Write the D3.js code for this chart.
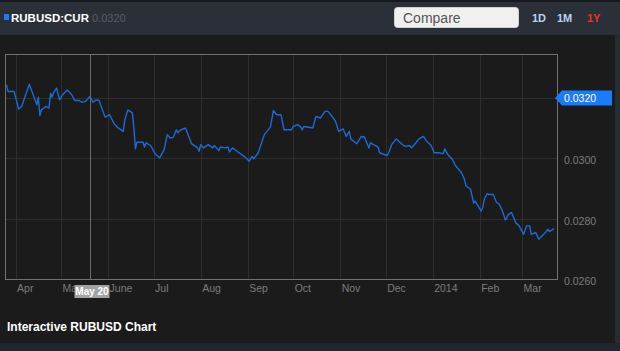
<!DOCTYPE html>
<html>
<head>
<meta charset="utf-8">
<script src="https://cdn.jsdelivr.net/npm/d3@7"></script>
<style>
  html, body { margin: 0; padding: 0; background: #1b1b1b; }
  svg { display: block; font-family: "Liberation Sans", Arial, sans-serif; }
</style>
</head>
<body>
<div id="chart"></div>
<script>
// RUBUSD daily close, Mar 2013 - Mar 2014
const dates = [
  "2013-03-26","2013-03-27","2013-03-31","2013-04-03","2013-04-05","2013-04-10","2013-04-13","2013-04-15",
  "2013-04-16","2013-04-17","2013-04-18","2013-04-21","2013-04-23","2013-04-24","2013-04-25","2013-04-26",
  "2013-04-28","2013-04-30","2013-05-02","2013-05-05","2013-05-08","2013-05-10","2013-05-13","2013-05-15",
  "2013-05-17","2013-05-20","2013-05-22","2013-05-24","2013-05-26","2013-05-27","2013-05-30","2013-06-02",
  "2013-06-05","2013-06-07","2013-06-11","2013-06-12","2013-06-14","2013-06-17","2013-06-18","2013-06-19",
  "2013-06-20","2013-06-24","2013-06-25","2013-06-26","2013-06-29","2013-07-02","2013-07-05","2013-07-08",
  "2013-07-10","2013-07-12","2013-07-14","2013-07-16","2013-07-17","2013-07-19","2013-07-22","2013-07-26",
  "2013-07-30","2013-07-31","2013-08-01","2013-08-03","2013-08-06","2013-08-09","2013-08-10","2013-08-13",
  "2013-08-14","2013-08-17","2013-08-19","2013-08-20","2013-08-22","2013-08-25","2013-08-31","2013-09-02",
  "2013-09-04","2013-09-05","2013-09-08","2013-09-12","2013-09-16","2013-09-18","2013-09-20","2013-09-23",
  "2013-09-25","2013-09-30","2013-10-01","2013-10-04","2013-10-06","2013-10-07","2013-10-08","2013-10-14",
  "2013-10-16","2013-10-19","2013-10-22","2013-10-24","2013-10-27","2013-10-29","2013-10-31","2013-11-03",
  "2013-11-05","2013-11-07","2013-11-08","2013-11-12","2013-11-15","2013-11-17","2013-11-20","2013-11-21",
  "2013-11-26","2013-11-27","2013-12-02","2013-12-03","2013-12-05","2013-12-08","2013-12-12","2013-12-14",
  "2013-12-17","2013-12-18","2013-12-21","2013-12-23","2013-12-26","2013-12-28","2013-12-31","2014-01-02",
  "2014-01-05","2014-01-08","2014-01-09","2014-01-11","2014-01-14","2014-01-16","2014-01-20","2014-01-22",
  "2014-01-23","2014-01-26","2014-01-27","2014-01-28","2014-01-29","2014-02-02","2014-02-03","2014-02-04",
  "2014-02-06","2014-02-07","2014-02-10","2014-02-12","2014-02-14","2014-02-16","2014-02-18","2014-02-20",
  "2014-02-22","2014-02-25","2014-02-27","2014-03-02","2014-03-04","2014-03-06","2014-03-07","2014-03-10",
  "2014-03-12","2014-03-16","2014-03-18","2014-03-19","2014-03-22"
];
const values = [
  0.03243,0.03221,0.03221,0.03163,0.03171,0.03245,0.03204,0.03177,
  0.03202,0.03141,0.03160,0.03171,0.03166,0.03215,0.03202,0.03217,
  0.03232,0.03193,0.03210,0.03226,0.03210,0.03191,0.03191,0.03185,
  0.03188,0.03204,0.03185,0.03193,0.03191,0.03177,0.03136,0.03144,
  0.03114,0.03103,0.03089,0.03127,0.03160,0.03150,0.03100,0.03031,
  0.03053,0.03053,0.03037,0.03051,0.03042,0.03015,0.03001,0.03029,
  0.03078,0.03067,0.03069,0.03094,0.03084,0.03094,0.03100,0.03048,
  0.03034,0.03023,0.03045,0.03034,0.03045,0.03034,0.03042,0.03025,
  0.03037,0.03034,0.03037,0.03021,0.03034,0.03023,0.03001,0.02990,
  0.03006,0.02998,0.03018,0.03078,0.03103,0.03158,0.03144,0.03144,
  0.03094,0.03094,0.03105,0.03111,0.03103,0.03094,0.03105,0.03100,
  0.03138,0.03133,0.03155,0.03155,0.03136,0.03122,0.03089,0.03097,
  0.03072,0.03089,0.03064,0.03048,0.03072,0.03070,0.03034,0.03051,
  0.03037,0.03018,0.03009,0.03018,0.03045,0.03064,0.03045,0.03039,
  0.03042,0.03034,0.03051,0.03064,0.03072,0.03056,0.03042,0.03018,
  0.03018,0.03015,0.03031,0.03012,0.02996,0.02976,0.02952,0.02930,
  0.02908,0.02897,0.02875,0.02851,0.02858,0.02825,0.02836,0.02864,
  0.02883,0.02880,0.02880,0.02855,0.02847,0.02825,0.02795,0.02814,
  0.02820,0.02785,0.02776,0.02748,0.02776,0.02776,0.02748,0.02754,
  0.02732,0.02752,0.02765,0.02757,0.02767
];
const monthTicks = ["2013-04-01","2013-05-01","2013-06-01","2013-07-01","2013-08-01","2013-09-01",
  "2013-10-01","2013-11-01","2013-12-01","2014-01-01","2014-02-01","2014-03-01"];
const monthLabels = ["Apr","May","June","Jul","Aug","Sep","Oct","Nov","Dec","2014","Feb","Mar"];
const yTicks = [0.026, 0.028, 0.030, 0.032];
const lastPrice = 0.0320;
const hoverDate = "2013-05-20";
const hoverLabel = "May 20";

const W = 620, H = 351;
const plot = {left: 5, top: 54, right: 557, bottom: 279};
const parse = d3.timeParse("%Y-%m-%d");
const data = dates.map((d, i) => [parse(d), values[i]]);

const svg = d3.select("#chart").append("svg")
    .attr("width", W)
    .attr("height", H);

// background pieces
svg.append("rect").attr("width", W).attr("height", H).attr("fill", "#1b1b1b");
svg.append("rect").attr("width", W).attr("height", 35).attr("fill", "#2b3038");
svg.append("rect").attr("width", W).attr("height", 2).attr("fill", "#16191d");
svg.append("rect").attr("x", 615).attr("y", 35).attr("width", 5).attr("height", H - 35).attr("fill", "#262c33");
svg.append("rect").attr("x", 0).attr("y", 343).attr("width", W).attr("height", 8).attr("fill", "#1e2630");

const x = d3.scaleTime()
    .domain([parse("2013-03-25"), parse("2014-03-24")])
    .range([plot.left, plot.right]);
const y = d3.scaleLinear()
    .domain([0.026, 0.03345])
    .range([plot.bottom, plot.top]);

// vertical grid
svg.append("g")
    .selectAll("line")
    .data(monthTicks)
    .join("line")
    .attr("x1", d => Math.round(x(parse(d))) + 0.5)
    .attr("x2", d => Math.round(x(parse(d))) + 0.5)
    .attr("y1", plot.top)
    .attr("y2", plot.bottom)
    .attr("stroke", "#2e2e2e");

// horizontal grid
svg.append("g")
    .selectAll("line")
    .data(yTicks.slice(1))
    .join("line")
    .attr("x1", plot.left)
    .attr("x2", plot.right)
    .attr("y1", d => Math.round(y(d)) + 0.5)
    .attr("y2", d => Math.round(y(d)) + 0.5)
    .attr("stroke", "#2e2e2e");

// x labels
const xAxis = svg.append("g")
    .attr("transform", "translate(0," + plot.bottom + ")")
    .call(d3.axisBottom(x)
        .tickValues(monthTicks.map(parse))
        .tickSize(0)
        .tickFormat((d, i) => monthLabels[i]));
xAxis.select(".domain").remove();
xAxis.selectAll("text")
    .attr("text-anchor", "start")
    .attr("dx", 1)
    .attr("y", 13)
    .attr("dy", 0)
    .attr("fill", "#7c7c7c")
    .style("font-size", "10.5px")
    .style("font-family", "Liberation Sans, Arial, sans-serif");

// y labels (the one under the price tag is hidden by it anyway)
const yAxis = svg.append("g")
    .attr("transform", "translate(" + plot.right + ",0)")
    .call(d3.axisRight(y)
        .tickValues(yTicks.filter(v => v !== lastPrice))
        .tickSize(0)
        .tickFormat(d3.format(".4f")));
yAxis.select(".domain").remove();
yAxis.selectAll("text")
    .attr("x", 7)
    .attr("dy", "0.55em")
    .attr("fill", "#7c7c7c")
    .style("font-size", "10.5px")
    .style("font-family", "Liberation Sans, Arial, sans-serif");

// line
svg.append("path")
    .datum(data)
    .attr("d", d3.line().x(d => x(d[0])).y(d => y(d[1])))
    .attr("fill", "none")
    .attr("stroke", "#1d6ad6")
    .attr("stroke-width", 1.4)
    .attr("stroke-linejoin", "round");

// frame
svg.append("rect")
    .attr("x", plot.left + 0.5)
    .attr("y", plot.top + 0.5)
    .attr("width", plot.right - plot.left)
    .attr("height", plot.bottom - plot.top)
    .attr("fill", "none")
    .attr("stroke", "#727272");

// hover crosshair and date tag
const hx = Math.round(x(parse(hoverDate))) + 0.5;
svg.append("line")
    .attr("x1", hx).attr("x2", hx)
    .attr("y1", plot.top).attr("y2", plot.bottom)
    .attr("stroke", "#6a6a6a");
svg.append("rect")
    .attr("x", hx - 16).attr("y", 285)
    .attr("width", 35).attr("height", 13)
    .attr("fill", "#a3a3a3");
svg.append("text")
    .attr("x", hx + 1.5).attr("y", 295)
    .attr("text-anchor", "middle")
    .attr("fill", "#ffffff")
    .style("font-size", "10px")
    .style("font-weight", "bold")
    .text(hoverLabel);

// last price tag
const py = Math.round(y(lastPrice));
svg.append("path")
    .attr("d", "M" + (plot.right - 2) + "," + py + "L" + (plot.right + 5) + "," + (py - 7.5) +
        "L612," + (py - 7.5) + "L612," + (py + 7.5) + "L" + (plot.right + 5) + "," + (py + 7.5) + "Z")
    .attr("fill", "#1a7bff");
svg.append("text")
    .attr("x", plot.right + 7).attr("y", py + 4)
    .attr("fill", "#ffffff")
    .style("font-size", "10.5px")
    .text(d3.format(".4f")(lastPrice));

// header
svg.append("rect").attr("x", 4).attr("y", 14).attr("width", 5).attr("height", 6).attr("fill", "#1a7bff");
svg.append("text").attr("x", 11).attr("y", 22)
    .attr("fill", "#ffffff").style("font-size", "11.5px").style("font-weight", "bold")
    .text("RUBUSD:CUR");
svg.append("text").attr("x", 92).attr("y", 22)
    .attr("fill", "#565d66").style("font-size", "11px")
    .text(d3.format(".4f")(lastPrice));

svg.append("rect").attr("x", 394.5).attr("y", 7.5).attr("width", 124).attr("height", 20).attr("rx", 3)
    .attr("fill", "#f0f0f0").attr("stroke", "#d0d0d0");
svg.append("text").attr("x", 403).attr("y", 22.5)
    .attr("fill", "#555555").style("font-size", "14px").text("Compare");

const ranges = [["1D", 532, "#b9d3ef"], ["1M", 557, "#b9d3ef"], ["1Y", 587, "#e8302a"]];
svg.append("g").selectAll("text")
    .data(ranges)
    .join("text")
    .attr("x", d => d[1]).attr("y", 21.5)
    .attr("fill", d => d[2])
    .style("font-size", "11px").style("font-weight", "bold")
    .text(d => d[0]);

// footer title
svg.append("text").attr("x", 7).attr("y", 331)
    .attr("fill", "#ffffff").style("font-size", "12px").style("font-weight", "bold")
    .text("Interactive RUBUSD Chart");
</script>
</body>
</html>
